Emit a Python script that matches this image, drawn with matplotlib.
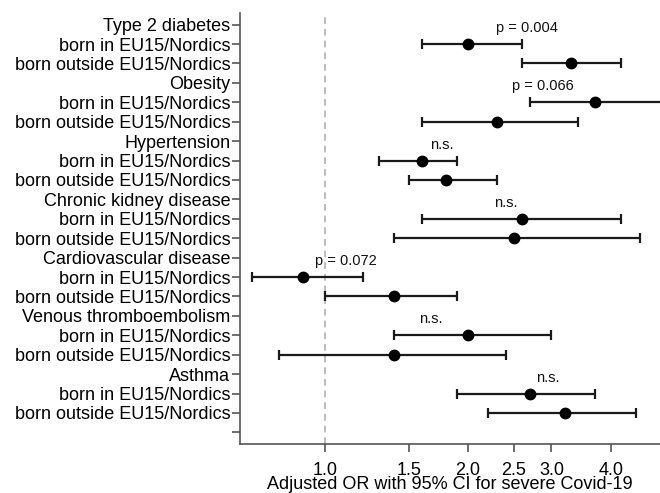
import matplotlib
matplotlib.use("Agg")
import matplotlib.pyplot as plt
import numpy as np

plt.rcParams['font.family'] = ['Liberation Sans', 'DejaVu Sans']

labels = ["Type 2 diabetes", "born in EU15/Nordics", "born outside EU15/Nordics",
          "Obesity", "born in EU15/Nordics", "born outside EU15/Nordics",
          "Hypertension", "born in EU15/Nordics", "born outside EU15/Nordics",
          "Chronic kidney disease", "born in EU15/Nordics", "born outside EU15/Nordics",
          "Cardiovascular disease", "born in EU15/Nordics", "born outside EU15/Nordics",
          "Venous thromboembolism", "born in EU15/Nordics", "born outside EU15/Nordics",
          "Asthma", "born in EU15/Nordics", "born outside EU15/Nordics", ""]

# row index, OR, lower, upper
rows  = [1, 2, 4, 5, 7, 8, 10, 11, 13, 14, 16, 17, 19, 20]
odds  = [2.00, 3.30, 3.71, 2.30, 1.60, 1.80, 2.60, 2.50, 0.90, 1.40, 2.00, 1.40, 2.70, 3.21]
lower = [1.60, 2.60, 2.70, 1.60, 1.30, 1.50, 1.60, 1.40, 0.70, 1.00, 1.40, 0.80, 1.90, 2.20]
upper = [2.60, 4.21, 5.60, 3.41, 1.90, 2.30, 4.21, 4.61, 1.20, 1.90, 3.00, 2.41, 3.71, 4.52]

p_texts = ["p = 0.004", "p = 0.066", "n.s.", "n.s.", "p = 0.072", "n.s.", "n.s."]
p_rows  = [1, 4, 7, 10, 13, 16, 19]
p_x     = [2.66, 2.88, 1.76, 2.40, 1.106, 1.67, 2.95]

xticks = [1.0, 1.5, 2.0, 2.5, 3.0, 4.0]

fig = plt.figure(figsize=(6.6, 4.93), dpi=100)
ax = fig.add_axes([240/660, 49/493, 420/660, 431/493])

odds_a = np.array(odds); lo = np.array(lower); hi = np.array(upper)
ax.axvline(1.0, color='#b0b0b0', linestyle=(0, (4, 3)), linewidth=1.2, zorder=1)
ax.errorbar(odds_a, rows, xerr=[odds_a - lo, hi - odds_a], fmt='o', color='black',
            ecolor='#1a1a1a', elinewidth=1.6, capsize=3.5, capthick=1.6,
            markersize=7.5, zorder=3, clip_on=True)

for t, r, x in zip(p_texts, p_rows, p_x):
    ax.text(x, r - 0.82, t, ha='center', va='center', fontsize=10.5, color='#111111')

ax.set_xscale('log')
ax.set_xlim(0.662, 5.08)
ax.set_xticks(xticks)
ax.set_xticklabels([f"{v:.1f}" for v in xticks])
ax.xaxis.set_minor_locator(matplotlib.ticker.NullLocator())
ax.set_ylim(21.6, -0.6)
ax.set_yticks(range(len(labels)))
ax.set_yticklabels(labels)
ax.tick_params(axis='y', labelsize=13, length=6, color='#555555', width=1.2, pad=1)
ax.tick_params(axis='x', labelsize=13, length=6, color='#555555', width=1.2, pad=7)
ax.set_xlabel("Adjusted OR with 95% CI for severe Covid-19", fontsize=13, labelpad=-2.5)
for s in ['top', 'right']:
    ax.spines[s].set_visible(False)
for s in ['left', 'bottom']:
    ax.spines[s].set_color('#555555')
    ax.spines[s].set_linewidth(1.2)

fig.savefig("out.png", dpi=100)
